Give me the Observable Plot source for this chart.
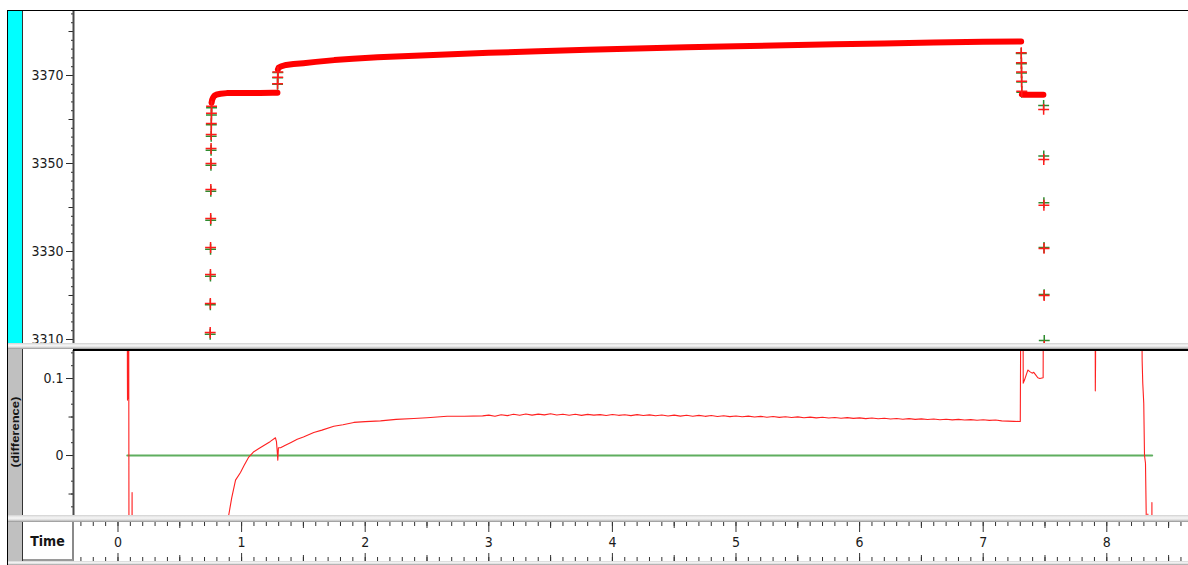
<!DOCTYPE html>
<html>
<head>
<meta charset="utf-8">
<script src="https://cdn.jsdelivr.net/npm/d3@7"></script>
<script src="https://cdn.jsdelivr.net/npm/@observablehq/plot@0.6"></script>
<style>
  html, body { margin: 0; padding: 0; background: #fff; }
  #root { position: relative; width: 1188px; height: 565px; background: #fff; overflow: hidden; }
  .abs { position: absolute; }
  .sep { background: linear-gradient(to bottom, #d0d0d0 0%, #e6e6e6 20%, #f6f6f6 45%, #e0e0e0 65%, #bdbdbd 85%, #8c8c8c 100%); }
</style>
</head>
<body>
<div id="root">
  <div class="abs" style="left:7px;top:10px;width:1181px;height:1px;background:#000"></div>
  <div class="abs" style="left:7px;top:10px;width:1px;height:555px;background:#000"></div>
  <div class="abs" style="left:8px;top:11px;width:14px;height:332px;background:#00ffff"></div>
  <div class="abs" style="left:8px;top:349px;width:14px;height:216px;background:#c0c0c0"></div>
  <div class="abs" style="left:22px;top:11px;width:1px;height:554px;background:#333"></div>
  <div id="top" class="abs" style="left:23px;top:11px;"></div>
  <div id="bottom" class="abs" style="left:23px;top:350px;"></div>
  <div id="time" class="abs" style="left:23px;top:522px;"></div>
  <div class="abs sep" style="left:8px;top:343px;width:1180px;height:6px;z-index:5"></div>
  <div class="abs" style="left:73px;top:349px;width:1115px;height:1.5px;background:#000;z-index:5"></div>
  <div class="abs sep" style="left:8px;top:515px;width:1180px;height:7px;z-index:5"></div>
  <div class="abs sep" style="left:8px;top:561px;width:1180px;height:4px;z-index:5"></div>
  <div class="abs" style="left:23px;top:522px;width:49px;height:37px;background:#fff;border-right:2px solid #8a8a8a;border-bottom:2px solid #9a9a9a;z-index:6;display:flex;align-items:center;justify-content:center;font:bold 14px 'Liberation Sans Narrow','Arial Narrow','DejaVu Sans Condensed',sans-serif;color:#151515">Time</div>
  <div class="abs" style="left:15px;top:432px;transform:translate(-50%,-50%) rotate(-90deg) scaleY(0.78);white-space:nowrap;font:bold 13px 'Liberation Sans','DejaVu Sans',sans-serif;color:#151515;z-index:6">(difference)</div>
</div>
<script>
// ---------- scales (time axis shared by all panels) ----------
const xDomain = [-0.36, 8.661];
const topDomain = [3309.09, 3384.55];
const diffDomain = [-0.0779, 0.1364];

// ---------- tick labels ----------
const topLabels = [3310, 3330, 3350, 3370];
const topMid = [3320, 3340, 3360, 3380];
const topMinor = d3.range(3310, 3385, 2);
const diffLabels = [0, 0.1];
const diffMid = [-0.05, 0.05];
const diffMinor = d3.range(-6, 9).map(i => i * 0.1 / 6);
const timeLabels = [0, 1, 2, 3, 4, 5, 6, 7, 8];
const timeMid = [-0.5, 0.5, 1.5, 2.5, 3.5, 4.5, 5.5, 6.5, 7.5, 8.5];
const timeMinor = d3.range(-3, 87).map(i => i / 10);

// ---------- top panel: sparse samples (steep rise / jumps / falls) ----------
const markerTime  = [0.746, 0.747, 0.748, 0.749, 0.750, 0.751, 0.752, 0.753, 0.754, 0.755, 0.756, 0.757,
                     1.291, 1.292, 1.293,
                     7.308, 7.309, 7.310, 7.311, 7.312,
                     7.489, 7.490, 7.491, 7.492, 7.493, 7.494];
const markerRed   = [3311.6, 3318.2, 3324.8, 3330.9, 3337.5, 3344.1, 3350.0, 3353.4, 3356.6, 3359.1, 3361.4, 3363.0,
                     3368.1, 3369.6, 3370.8,
                     3375.2, 3372.9, 3370.8, 3368.7, 3366.4,
                     3362.3, 3350.9, 3340.5, 3330.7, 3320.0, 3308.5];
const markerGreen = [3311.2, 3317.9, 3324.4, 3330.5, 3337.1, 3343.7, 3349.6, 3353.0, 3356.2, 3358.8, 3361.0, 3362.7,
                     3368.0, 3369.5, 3370.7,
                     3375.0, 3372.7, 3370.6, 3368.5, 3366.2,
                     3363.2, 3351.7, 3341.1, 3330.9, 3320.2, 3309.8];

// ---------- top panel: densely sampled plateaus (markers merge into a band) ----------
const band1Time  = [0.757, 0.762, 0.770, 0.780, 0.800, 0.830, 0.880, 0.950, 1.050, 1.150, 1.250, 1.290];
const band1Value = [3363.8, 3364.5, 3365.0, 3365.4, 3365.7, 3365.85, 3366.0, 3366.0, 3366.05, 3366.05, 3366.1, 3366.1];
const band2Time  = [1.294, 1.300, 1.320, 1.360, 1.420, 1.500, 1.600, 1.750, 1.900, 2.100, 2.400, 2.700, 3.000,
                    3.400, 3.800, 4.200, 4.600, 5.000, 5.400, 5.800, 6.200, 6.600, 7.000, 7.307];
const band2Value = [3371.4, 3371.8, 3372.1, 3372.4, 3372.6, 3372.8, 3373.1, 3373.5, 3373.8, 3374.15, 3374.5, 3374.85, 3375.15,
                    3375.5, 3375.85, 3376.15, 3376.4, 3376.65, 3376.9, 3377.1, 3377.3, 3377.5, 3377.65, 3377.75];
const band3Time  = [7.313, 7.330, 7.360, 7.400, 7.440, 7.487];
const band3Value = [3365.7, 3365.6, 3365.6, 3365.6, 3365.6, 3365.6];

// ---------- bottom panel: (difference) ----------
const diffTime = [0.075, 0.076, 0.077, 0.078, 0.079, 0.086, 0.090, 0.112, 0.114, 0.116,
  0.880, 0.892, 0.920, 0.951, 0.991, 1.020, 1.058, 1.099, 1.140, 1.180, 1.230, 1.274, 1.282, 1.288, 1.293, 1.298,
  1.315, 1.350, 1.400, 1.450, 1.500, 1.584, 1.650, 1.746, 1.820, 1.908, 2.000, 2.124, 2.250, 2.393, 2.500, 2.663, 2.800, 2.950,
  3.00, 3.05, 3.10, 3.15, 3.20, 3.25, 3.30, 3.35, 3.40, 3.45, 3.50, 3.55, 3.60, 3.65, 3.70, 3.75, 3.80, 3.85, 3.90, 3.95,
  4.00, 4.05, 4.10, 4.15, 4.20, 4.25, 4.30, 4.35, 4.40, 4.45, 4.50, 4.55, 4.60, 4.65, 4.70, 4.75, 4.80, 4.85, 4.90, 4.95,
  5.00, 5.05, 5.10, 5.15, 5.20, 5.25, 5.30, 5.35, 5.40, 5.45, 5.50, 5.55, 5.60, 5.65, 5.70, 5.75, 5.80, 5.85, 5.90, 5.95,
  6.00, 6.05, 6.10, 6.15, 6.20, 6.25, 6.30, 6.35, 6.40, 6.45, 6.50, 6.55, 6.60, 6.65, 6.70, 6.75, 6.80, 6.85, 6.90, 6.95,
  7.00, 7.05, 7.10, 7.15, 7.20, 7.25, 7.30,
  7.307, 7.320, 7.324, 7.334, 7.361, 7.377, 7.396, 7.409, 7.423, 7.442, 7.458, 7.485, 7.488,
  7.905, 7.907, 7.909, 7.911,
  8.278, 8.286, 8.291, 8.299, 8.305, 8.313, 8.319, 8.322, 8.330, 8.332, 8.334, 8.363, 8.365, 8.367];
const diffValue = [0.30, 0.107, 0.072, 0.100, 0.074, 0.30, -0.30, -0.30, -0.048, -0.30,
  -0.30, -0.081, -0.055, -0.032, -0.022, -0.013, -0.002, 0.005, 0.009, 0.013, 0.018, 0.023, 0.018, 0.006, -0.006, 0.010,
  0.010, 0.013, 0.017, 0.021, 0.024, 0.030, 0.033, 0.038, 0.040, 0.043, 0.044, 0.045, 0.047, 0.048, 0.049, 0.051, 0.051, 0.0515,
  0.0525, 0.0510, 0.0530, 0.0518, 0.0535, 0.0522, 0.0540, 0.0525, 0.0538, 0.0528, 0.0542, 0.0526, 0.0537, 0.0524, 0.0536, 0.0521, 0.0534, 0.0525, 0.0531, 0.0519,
  0.0533, 0.0522, 0.0530, 0.0518, 0.0531, 0.0520, 0.0528, 0.0516, 0.0527, 0.0514, 0.0525, 0.0512, 0.0523, 0.0511, 0.0521, 0.0509, 0.0519, 0.0507, 0.0517, 0.0505,
  0.0514, 0.0503, 0.0512, 0.0500, 0.0509, 0.0498, 0.0507, 0.0496, 0.0504, 0.0493, 0.0502, 0.0491, 0.0499, 0.0489, 0.0497, 0.0487, 0.0494, 0.0484, 0.0492, 0.0482,
  0.0489, 0.0479, 0.0487, 0.0477, 0.0484, 0.0475, 0.0481, 0.0472, 0.0479, 0.0470, 0.0476, 0.0468, 0.0474, 0.0465, 0.0471, 0.0463, 0.0469, 0.0461, 0.0466, 0.0459,
  0.0464, 0.0456, 0.0461, 0.0450, 0.0447, 0.0444, 0.0442,
  0.30, 0.30, 0.094, 0.098, 0.111, 0.109, 0.107, 0.108, 0.105, 0.101, 0.100, 0.101, 0.30,
  0.30, 0.084, 0.120, 0.30,
  0.30, 0.123, 0.094, 0.068, 0.000, -0.010, -0.078, -0.30, -0.30, -0.076, -0.30, -0.30, -0.061, -0.30];
const zeroSpan = [0.075, 8.367];

// ---------- build tables ----------
const markers = markerTime.map((t, i) => ({t, red: markerRed[i], green: markerGreen[i]}));
const bands = [[band1Time, band1Value], [band2Time, band2Value], [band3Time, band3Value]]
  .flatMap(([T, V], s) => T.map((t, j) => ({t, v: V[j], seg: s})));
const diff = diffTime.map((t, i) => ({t, v: diffValue[i]}));
const zero = zeroSpan.map(t => ({t, v: 0}));

const FONT = "'Liberation Sans Narrow','Arial Narrow','DejaVu Sans Condensed',sans-serif";
const baseStyle = {background: "transparent", fontFamily: FONT, fontSize: "14px", color: "#2a2a2a"};
const fmt = d => `${d}`;

const topPlot = Plot.plot({
  width: 1165, height: 332,
  marginLeft: 50, marginRight: 0, marginTop: 0, marginBottom: 0,
  x: {domain: xDomain, axis: null},
  y: {domain: topDomain, axis: null},
  style: baseStyle,
  marks: [
    Plot.axisY({ticks: topMinor, tickSize: 2, tickFormat: () => "", label: null}),
    Plot.axisY({ticks: topMid, tickSize: 4.5, tickFormat: () => "", label: null}),
    Plot.axisY({ticks: topLabels, tickSize: 7, tickPadding: 3, tickFormat: fmt, label: null, fill: "#1a1a1a", fontSize: 14}),
    Plot.ruleX([xDomain[0]], {stroke: "#4a4a4a", strokeWidth: 2}),
    Plot.dot(markers, {x: "t", y: "green", symbol: "plus", r: 3.6, stroke: "#2e8b2e", strokeWidth: 1.5, clip: true}),
    Plot.line(bands, {x: "t", y: "v", z: "seg", stroke: "#ff0000", strokeWidth: 6, strokeLinecap: "round", clip: true}),
    Plot.dot(markers, {x: "t", y: "red", symbol: "plus", r: 3.6, stroke: "#ff1a1a", strokeWidth: 1.5, clip: true})
  ]
});
document.getElementById("top").appendChild(topPlot);

const bottomPlot = Plot.plot({
  width: 1165, height: 165,
  marginLeft: 50, marginRight: 0, marginTop: 0, marginBottom: 0,
  x: {domain: xDomain, axis: null},
  y: {domain: diffDomain, axis: null},
  style: baseStyle,
  marks: [
    Plot.axisY({ticks: diffMinor, tickSize: 2, tickFormat: () => "", label: null}),
    Plot.axisY({ticks: diffMid, tickSize: 4.5, tickFormat: () => "", label: null}),
    Plot.axisY({ticks: diffLabels, tickSize: 7, tickPadding: 3, tickFormat: fmt, label: null, fill: "#1a1a1a", fontSize: 14}),
    Plot.ruleX([xDomain[0]], {stroke: "#4a4a4a", strokeWidth: 2}),
    Plot.line(zero, {x: "t", y: "v", stroke: "#5fae5f", strokeWidth: 2}),
    Plot.line(diff, {x: "t", y: "v", stroke: "#ff2020", strokeWidth: 1.1, clip: true})
  ]
});
document.getElementById("bottom").appendChild(bottomPlot);

const TH = 39;
const timePlot = Plot.plot({
  width: 1165, height: TH,
  marginLeft: 50, marginRight: 0, marginTop: 0, marginBottom: 0,
  x: {domain: xDomain, axis: null},
  style: baseStyle,
  marks: [
    Plot.tickX(timeMinor, {x: d => d, insetBottom: TH - 4, stroke: "#333"}),
    Plot.tickX(timeMid, {x: d => d, insetBottom: TH - 6, stroke: "#333"}),
    Plot.tickX(timeLabels, {x: d => d, insetBottom: TH - 10, stroke: "#333"}),
    Plot.tickX(timeMinor, {x: d => d, insetTop: TH - 4, stroke: "#333"}),
    Plot.tickX(timeMid, {x: d => d, insetTop: TH - 6, stroke: "#333"}),
    Plot.tickX(timeLabels, {x: d => d, insetTop: TH - 8, stroke: "#333"}),
    Plot.text(timeLabels, {x: d => d, frameAnchor: "middle", dy: 1, text: fmt, fontSize: 14, fill: "#1a1a1a"})
  ]
});
document.getElementById("time").appendChild(timePlot);
</script>
</body>
</html>
